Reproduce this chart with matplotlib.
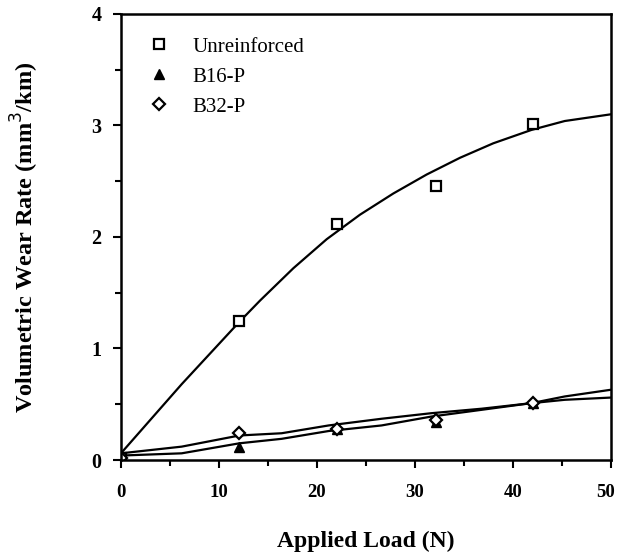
import matplotlib
matplotlib.use("Agg")
import matplotlib.pyplot as plt
from matplotlib.ticker import MultipleLocator
from matplotlib.transforms import ScaledTranslation

# measured points
load_pts = [0, 12.1, 22.1, 32.2, 42.1]
unreinf_pts = [0.02, 1.25, 2.12, 2.46, 3.01]
b16_pts = [0.0, 0.12, 0.28, 0.34, 0.51]
b32_pts = [0.02, 0.245, 0.28, 0.36, 0.51]

# fitted curves
unreinf_x = [0, 6.2, 12.1, 14.2, 17.6, 21.0, 24.4, 27.8, 31.2, 34.6, 38.0, 41.9, 45.3, 50]
unreinf_curve = [0.06, 0.68, 1.24, 1.43, 1.72, 1.98, 2.20, 2.39, 2.56, 2.71, 2.84, 2.96, 3.04, 3.10]

low_x = [0, 6.2, 12.1, 16.4, 21.2, 26.6, 31.7, 36.8, 41.9, 45.3, 50]
b32_curve = [0.06, 0.12, 0.22, 0.24, 0.31, 0.37, 0.42, 0.46, 0.51, 0.54, 0.56]
b16_curve = [0.04, 0.06, 0.15, 0.19, 0.26, 0.31, 0.39, 0.45, 0.51, 0.57, 0.63]

serif = "Liberation Serif"

fig = plt.figure(figsize=(6.17, 5.58), dpi=100)
ax = fig.add_axes([0.196, 0.1756, 0.794, 0.7994])

ax.plot(unreinf_x, unreinf_curve, color="black", lw=1.6)
ax.plot(low_x, b32_curve, color="black", lw=1.6)
ax.plot(low_x, b16_curve, color="black", lw=1.6)

ax.plot(load_pts, unreinf_pts, ls="none", marker="s", ms=7, mfc="white",
        mec="black", mew=1.6, label="Unreinforced")
ax.plot(load_pts, b16_pts, ls="none", marker="^", ms=7, color="black",
        label="B16-P")
ax.plot(load_pts, b32_pts, ls="none", marker="D", ms=6, mfc="white",
        mec="black", mew=1.6, label="B32-P")

ax.set_xlim(0, 50)
ax.set_ylim(0, 4)
ax.xaxis.set_major_locator(MultipleLocator(10))
ax.xaxis.set_minor_locator(MultipleLocator(5))
ax.yaxis.set_major_locator(MultipleLocator(1))
ax.yaxis.set_minor_locator(MultipleLocator(0.5))
ax.tick_params(which="major", direction="out", length=6, width=1.5, pad=8)
ax.tick_params(axis="x", which="major", pad=11)
ax.tick_params(which="minor", direction="out", length=4, width=1.5)
for lab in ax.get_yticklabels():
    lab.set_fontfamily(serif)
    lab.set_fontweight("bold")
    lab.set_fontsize(14.5)
xlabs = ax.get_xticklabels()
for lab in xlabs:
    lab.set_fontfamily(serif)
    lab.set_fontweight("bold")
    lab.set_fontsize(13.5)
# nudge the "50" so it stays inside the figure
last = [lab for lab in xlabs if lab.get_text() == "50"]
for lab in last:
    lab.set_transform(lab.get_transform() + ScaledTranslation(-4 / 72, 0, fig.dpi_scale_trans))
for sp in ax.spines.values():
    sp.set_linewidth(1.8)

ax.set_xlabel("Applied Load (N)", fontfamily=serif, fontweight="bold",
              fontsize=17, labelpad=22)
ax.set_ylabel("Volumetric Wear Rate (mm$^3$/km)", fontfamily=serif,
              fontweight="bold", fontsize=17.5, labelpad=36)

leg = ax.legend(loc="upper left", frameon=False, prop={"family": serif, "size": 15},
                bbox_to_anchor=(0.018, 0.99), handletextpad=1.1, labelspacing=0.5,
                handlelength=1.0)

fig.savefig("out.png", dpi=100)
